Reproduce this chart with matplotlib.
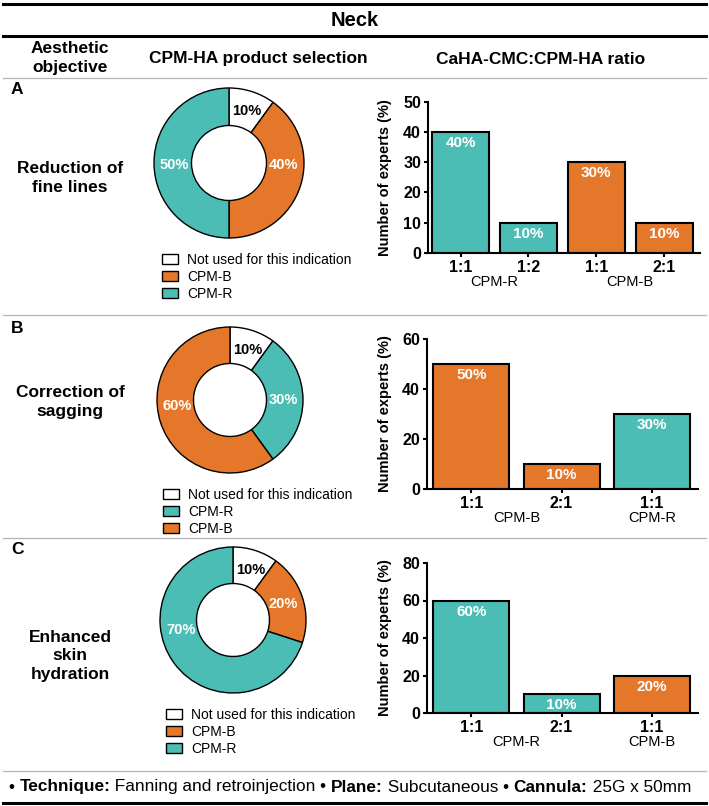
import matplotlib.pyplot as plt
from matplotlib.lines import Line2D
import numpy as np

plt.rcParams['font.family'] = ['Liberation Sans', 'DejaVu Sans']

TEAL = '#4bbdb4'
ORANGE = '#e5772a'
NOT_USED = 'Not used for this indication'
colors = {NOT_USED: 'white', 'CPM-B': ORANGE, 'CPM-R': TEAL}

title = 'Neck'
col_headers = ['Aesthetic\nobjective', 'CPM-HA product selection', 'CaHA-CMC:CPM-HA ratio']
panel_letters = ['A', 'B', 'C']
objectives = ['Reduction of\nfine lines', 'Correction of\nsagging', 'Enhanced\nskin\nhydration']

# donut data (slice order = legend order)
pie_labels_a = [NOT_USED, 'CPM-B', 'CPM-R']
pie_values_a = [10, 40, 50]
pie_labels_b = [NOT_USED, 'CPM-R', 'CPM-B']
pie_values_b = [10, 30, 60]
pie_labels_c = [NOT_USED, 'CPM-B', 'CPM-R']
pie_values_c = [10, 20, 70]

# bar data
ratios_a = ['1:1', '1:2', '1:1', '2:1']
values_a = [40, 10, 30, 10]
products_a = ['CPM-R', 'CPM-R', 'CPM-B', 'CPM-B']
ratios_b = ['1:1', '2:1', '1:1']
values_b = [50, 10, 30]
products_b = ['CPM-B', 'CPM-B', 'CPM-R']
ratios_c = ['1:1', '2:1', '1:1']
values_c = [60, 10, 20]
products_c = ['CPM-R', 'CPM-R', 'CPM-B']

footer = [('• ', 'normal'), ('Technique:', 'bold'), (' Fanning and retroinjection • ', 'normal'),
          ('Plane:', 'bold'), (' Subcutaneous • ', 'normal'), ('Cannula:', 'bold'), (' 25G x 50mm', 'normal')]

W, H = 709, 806
fig = plt.figure(figsize=(W / 100, H / 100), dpi=100)


def fx(px):
    return px / W


def fy(py):
    return 1 - py / H


def hline(y, lw, color):
    fig.add_artist(Line2D([0.004, 0.996], [fy(y), fy(y)], transform=fig.transFigure, lw=lw, color=color))


def draw_donut(cx, cy, r, labels, values, label_angles):
    s = r * 1.04
    ax = fig.add_axes([fx(cx - s), fy(cy + s), 2 * s / W, 2 * s / H])
    wedges, _ = ax.pie(values, colors=[colors[l] for l in labels], startangle=90, counterclock=False,
                       radius=1, wedgeprops=dict(width=0.5, edgecolor='black', linewidth=1))
    ax.set_xlim(-1.04, 1.04)
    ax.set_ylim(-1.04, 1.04)
    for v, lab, ang in zip(values, labels, label_angles):
        a = np.deg2rad(ang)
        ax.text(0.73 * np.sin(a), 0.73 * np.cos(a), f'{v}%', ha='center', va='center',
                fontsize=10.5, fontweight='bold', color='black' if lab == NOT_USED else 'white')
    ax.legend(wedges, labels, loc='upper left', bbox_to_anchor=(fx(cx - 67), fy(cy + r + 15)),
              bbox_transform=fig.transFigure, frameon=False, fontsize=10, handlelength=1.15,
              handleheight=0.72, handletextpad=0.65, labelspacing=0.2, borderpad=0, borderaxespad=0)


def draw_bars(box, ratios, values, products, ymax, ystep, xlim):
    left, top, right, bottom = box
    ax = fig.add_axes([fx(left), fy(bottom), (right - left) / W, (bottom - top) / H])
    x = np.arange(len(values))
    bars = ax.bar(x, values, width=0.84, color=[colors[p] for p in products], edgecolor='black', linewidth=1.5)
    for b, v in zip(bars, values):
        ax.annotate(f'{v}%', xy=(b.get_x() + b.get_width() / 2, v), xytext=(0, -3), textcoords='offset points',
                    ha='center', va='top', color='white', fontweight='bold', fontsize=11)
    ax.set_xlim(*xlim)
    ax.set_ylim(0, ymax)
    ax.set_xticks(x, ratios, fontweight='bold', fontsize=11.5)
    yt = np.arange(0, ymax + 1, ystep)
    ax.set_yticks(yt, [str(v) for v in yt], fontweight='bold', fontsize=11.5)
    for sp in ['top', 'right']:
        ax.spines[sp].set_visible(False)
    for sp in ['left', 'bottom']:
        ax.spines[sp].set_linewidth(1.5)
    ax.tick_params(length=3, width=1.5, pad=2)
    ax.set_ylabel('Number of experts (%)', fontweight='bold', fontsize=10.5)
    ax.yaxis.set_label_coords((392 - left) / (right - left), 0.5)
    seen = []
    for p in products:
        if p not in seen:
            seen.append(p)
    for p in seen:
        idx = [i for i, q in enumerate(products) if q == p]
        ax.annotate(p, xy=(np.mean(idx), 0), xycoords=('data', 'axes fraction'), xytext=(0, -21),
                    textcoords='offset points', ha='center', va='center', fontsize=10.5)


# rules
hline(4, 2.2, 'black')
hline(36, 2.2, 'black')
for y in [78, 315, 538, 771]:
    hline(y, 0.9, '#b4b4b4')
hline(803, 2.2, 'black')

# headers
fig.text(fx(355), fy(21), title, ha='center', va='center', fontsize=14.5, fontweight='bold')
fig.text(fx(70), fy(58), col_headers[0], ha='center', va='center', fontsize=12.5, fontweight='bold',
         linespacing=1.3)
fig.text(fx(258), fy(59), col_headers[1], ha='center', va='center', fontsize=12.5, fontweight='bold')
fig.text(fx(541), fy(59), col_headers[2], ha='center', va='center', fontsize=12.5, fontweight='bold')

letter_y = [90, 328, 550]
objective_y = [178, 402, 656]
for letter, ly, obj, oy in zip(panel_letters, letter_y, objectives, objective_y):
    fig.text(fx(11), fy(ly), letter, ha='left', va='center', fontsize=12.5, fontweight='bold')
    fig.text(fx(70), fy(oy), obj, ha='center', va='center', fontsize=12.5, fontweight='bold', linespacing=1.3)

draw_donut(229, 163, 75, pie_labels_a, pie_values_a, [19, 92, 268])
draw_donut(230, 400, 73, pie_labels_b, pie_values_b, [19, 90, 264])
draw_donut(233, 620, 73, pie_labels_c, pie_values_c, [19, 72, 259])

draw_bars((428, 101.6, 700, 253), ratios_a, values_a, products_a, 50, 10, (-0.48, 3.53))
draw_bars((427, 339, 698, 489), ratios_b, values_b, products_b, 60, 20, (-0.49, 2.51))
draw_bars((427, 563, 698, 713), ratios_c, values_c, products_c, 80, 20, (-0.49, 2.51))

# footer with mixed weights
renderer = fig.canvas.get_renderer()


def seg_width(s, weight, size):
    t1 = fig.text(0, 0, '|' + s + '|', fontsize=size, fontweight=weight)
    t2 = fig.text(0, 0, '||', fontsize=size, fontweight=weight)
    w = t1.get_window_extent(renderer).width - t2.get_window_extent(renderer).width
    t1.remove()
    t2.remove()
    return w


fsize = 12.4
xpos = 9
for s, weight in footer:
    fig.text(fx(xpos), fy(787), s, ha='left', va='center', fontsize=fsize, fontweight=weight)
    xpos += seg_width(s, weight, fsize)

fig.savefig('out.png', dpi=100)
